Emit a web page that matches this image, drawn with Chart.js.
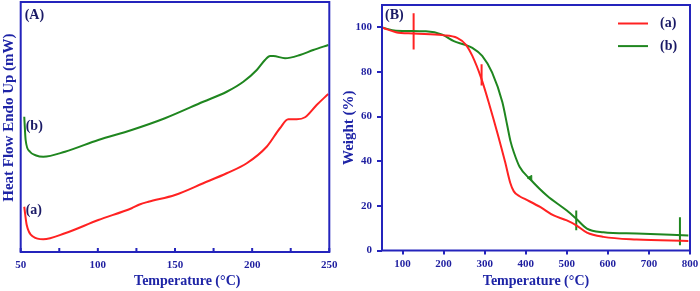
<!DOCTYPE html>
<html>
<head>
<meta charset="utf-8">
<script src="https://cdn.jsdelivr.net/npm/chart.js@4/dist/chart.umd.min.js"></script>
<style>
    body { margin: 0; background: #fff; width: 700px; height: 291px; position: relative; overflow: hidden; }
    #dsc { position: absolute; left: 0; top: 0; }
    #tga { position: absolute; left: 335px; top: 0; }
</style>
</head>
<body>
<canvas id="dsc" width="350" height="291"></canvas>
<canvas id="tga" width="365" height="291"></canvas>
<script>
// (A) DSC curves, heat flow in arbitrary units (no scale on the original)
const dscTempA = [52.3, 53.9, 58.2, 64.6, 78.7, 100.3, 121.9, 127, 132.7, 150, 168.3, 183.5, 196.5, 209.4, 218, 223.4, 228.9, 234.3, 241.8, 249.3];
const dscHeatA = [18.1, 10.8, 6.1, 5.1, 7.5, 12.8, 17.5, 19.0, 20.1, 22.8, 27.5, 31.5, 35.5, 42.1, 49.5, 53.1, 53.1, 53.9, 58.8, 63.2];
const dscTempB = [52.3, 53.2, 56, 60, 64.6, 78.7, 100.3, 121.9, 143.5, 168.3, 183.5, 194.3, 203, 208.3, 211.6, 213.7, 221.3, 231, 239.6, 249.4];
const dscHeatB = [54.1, 44.8, 40.1, 38.6, 38.1, 40.1, 44.8, 48.8, 53.5, 60.1, 64.1, 68.1, 72.8, 76.8, 78.4, 78.4, 77.5, 78.8, 80.8, 82.8];
const dscTicks = [50, 75, 100, 125, 150, 175, 200, 225, 250];

// (B) TGA curves, weight %
const tgaTempA = [52, 84, 127, 197, 233, 254, 270, 292, 312, 332, 350, 362, 371, 385, 400, 436, 468, 500, 523, 549, 589, 670, 796];
const tgaWeightA = [99.8, 97.8, 97.2, 96.5, 95.3, 92.3, 87.2, 77.0, 65.0, 52.0, 39.5, 30.5, 26.5, 24.3, 22.9, 19.4, 15.7, 13.5, 11.3, 8.0, 6.1, 4.9, 4.3];
const tgaTempB = [52, 84, 157, 197, 225, 250, 270, 294, 318, 343, 355, 363, 371, 385, 411, 452, 500, 523, 549, 589, 670, 796];
const tgaWeightB = [99.8, 98.5, 98.2, 96.7, 93.8, 92.3, 90.8, 87.2, 79.8, 66.5, 56.0, 48.9, 44.0, 37.5, 31.9, 24.5, 17.9, 14.2, 9.8, 8.2, 7.6, 6.7];
const tgaTicksX = [100, 200, 300, 400, 500, 600, 700, 800];
const tgaTicksY = [0, 20, 40, 60, 80, 100];

// onset markers drawn by the instrument software
const markTempA = [127, 292.5];
const markLowA = [90.1, 73.9];
const markHighA = [106.3, 83.5];
const markTempB = [523, 775.5];
const markLowB = [9.1, 2.4];
const markHighB = [17.9, 14.9];
const arrowTempB = [411];
const arrowWeightB = [32.5];

const seriesNames = ["(a)", "(b)"];

const RED = "#ff2222";
const GREEN = "#1f861f";
const AXIS = "#2424bc";
const TICKTXT = "#1f1fa0";
const TITLE = "#1e24a6";
const NAVY = "#1a1a66";
const SERIF = "'Liberation Serif', 'Times New Roman', serif";

function pts(xs, ys) {
    return xs.map((x, i) => ({ x: x, y: ys[i] }));
}

function markerSets(temps, lows, highs, color) {
    return temps.map((t, i) => ({
        label: "",
        data: [{ x: t, y: lows[i] }, { x: t, y: highs[i] }],
        borderColor: color,
        borderWidth: 2,
        tension: 0,
        pointRadius: 0,
    }));
}

// no extra room for half tick labels, the layout padding handles it
function noPad(s) {
    s.paddingTop = 0;
    s.paddingBottom = 0;
    s.paddingLeft = 0;
    s.paddingRight = 0;
}

// frame around plot, optional inward x ticks, and text labels
function framePlugin(opts) {
    return {
        id: "frame",
        afterDraw(chart) {
            const ctx = chart.ctx;
            const a = chart.chartArea;
            ctx.save();
            ctx.strokeStyle = AXIS;
            ctx.lineWidth = 2;
            ctx.strokeRect(a.left, a.top, a.right - a.left, a.bottom - a.top);

            if (opts.innerTicks) {
                const xs = chart.scales.x;
                ctx.beginPath();
                xs.ticks.forEach(t => {
                    const px = xs.getPixelForValue(t.value);
                    ctx.moveTo(px, a.bottom);
                    ctx.lineTo(px, a.bottom - 4);
                });
                ctx.stroke();
            }

            ctx.fillStyle = NAVY;
            ctx.font = "bold 14px " + SERIF;
            ctx.textBaseline = "middle";
            ctx.textAlign = "left";
            opts.texts.forEach(t => ctx.fillText(t[0], a.left + t[1], t[2]));

            if (opts.legend) {
                const sets = chart.data.datasets.filter(d => d.label);
                sets.forEach((d, i) => {
                    const y = a.top + 18.5 + i * 22.6;
                    ctx.strokeStyle = d.borderColor;
                    ctx.lineWidth = 2;
                    ctx.beginPath();
                    ctx.moveTo(a.right - 72, y);
                    ctx.lineTo(a.right - 42, y);
                    ctx.stroke();
                    ctx.fillText(d.label, a.right - 30, y);
                });
            }
            ctx.restore();
        }
    };
}

const lineEl = { borderWidth: 2, tension: 0.4, cubicInterpolationMode: "monotone" };

new Chart(document.getElementById("dsc"), {
    type: "line",
    data: {
        datasets: [
            { label: seriesNames[0], data: pts(dscTempA, dscHeatA), borderColor: RED },
            { label: seriesNames[1], data: pts(dscTempB, dscHeatB), borderColor: GREEN },
        ],
    },
    options: {
        responsive: false,
        animation: false,
        layout: { padding: { top: 2, right: 20.7, left: 0, bottom: 0 } },
        elements: { point: { radius: 0 }, line: lineEl },
        plugins: { legend: { display: false }, tooltip: { enabled: false } },
        scales: {
            x: {
                type: "linear",
                min: 50,
                max: 250,
                grid: { display: false, drawTicks: false },
                border: { display: false },
                afterBuildTicks: s => { s.ticks = dscTicks.map(v => ({ value: v })); },
                afterFit: s => { s.height = 39; noPad(s); },
                ticks: {
                    padding: 7,
                    color: TICKTXT,
                    font: { family: SERIF, size: 11, weight: "bold" },
                    maxRotation: 0,
                    callback: v => (v % 50 === 0 ? v : ""),
                },
                title: {
                    display: true,
                    text: "       Temperature (°C)",
                    color: TITLE,
                    font: { family: SERIF, size: 14, weight: "bold" },
                    padding: { top: 0, bottom: 1 },
                },
            },
            y: {
                min: 0,
                max: 100,
                ticks: { display: false },
                grid: { display: false, drawTicks: false },
                border: { display: false },
                afterFit: s => { s.width = 20.7; noPad(s); },
                title: {
                    display: true,
                    text: "     Heat Flow Endo Up (mW)",
                    color: TITLE,
                    font: { family: SERIF, size: 15, weight: "bold" },
                    padding: { top: 0, bottom: 0 },
                },
            },
        },
    },
    plugins: [framePlugin({
        innerTicks: true,
        texts: [["(A)", 4, 15], ["(b)", 5, 126], ["(a)", 5, 210]],
    })],
});

new Chart(document.getElementById("tga"), {
    type: "line",
    data: {
        datasets: [
            { label: seriesNames[0], data: pts(tgaTempA, tgaWeightA), borderColor: RED },
            { label: seriesNames[1], data: pts(tgaTempB, tgaWeightB), borderColor: GREEN },
            ...markerSets(markTempA, markLowA, markHighA, RED),
            ...markerSets(markTempB, markLowB, markHighB, GREEN),
            {
                label: "",
                data: pts(arrowTempB, arrowWeightB),
                showLine: false,
                pointRadius: 3,
                pointStyle: "triangle",
                rotation: 150,
                backgroundColor: GREEN,
                borderColor: GREEN,
            },
        ],
    },
    options: {
        responsive: false,
        animation: false,
        layout: { padding: { top: 2, right: 10, left: 0, bottom: 0 } },
        elements: { point: { radius: 0 }, line: lineEl },
        plugins: { legend: { display: false }, tooltip: { enabled: false } },
        scales: {
            x: {
                type: "linear",
                min: 50,
                max: 800,
                grid: { display: true, drawOnChartArea: false, drawTicks: true, tickLength: 4, color: AXIS, lineWidth: 2 },
                border: { display: false },
                afterBuildTicks: s => { s.ticks = tgaTicksX.map(v => ({ value: v })); },
                afterFit: s => { s.height = 40.5; noPad(s); },
                ticks: {
                    padding: 3,
                    color: TICKTXT,
                    font: { family: SERIF, size: 11, weight: "bold" },
                    maxRotation: 0,
                },
                title: {
                    display: true,
                    text: "Temperature (°C)",
                    color: TITLE,
                    font: { family: SERIF, size: 14, weight: "bold" },
                    padding: { top: 0, bottom: 1 },
                },
            },
            y: {
                min: 0,
                max: 110,
                grid: { display: true, drawOnChartArea: false, drawTicks: true, tickLength: 5, color: AXIS, lineWidth: 2 },
                border: { display: false },
                afterBuildTicks: s => { s.ticks = tgaTicksY.map(v => ({ value: v })); },
                afterFit: s => { s.width = 47; noPad(s); },
                ticks: {
                    padding: 5,
                    color: TICKTXT,
                    font: { family: SERIF, size: 11, weight: "bold" },
                },
                title: {
                    display: true,
                    text: "Weight (%)",
                    color: TITLE,
                    font: { family: SERIF, size: 15, weight: "bold" },
                    padding: { top: 5, bottom: 0 },
                },
            },
        },
    },
    plugins: [framePlugin({
        innerTicks: false,
        legend: true,
        texts: [["(B)", 3, 15]],
    })],
});
</script>
</body>
</html>
